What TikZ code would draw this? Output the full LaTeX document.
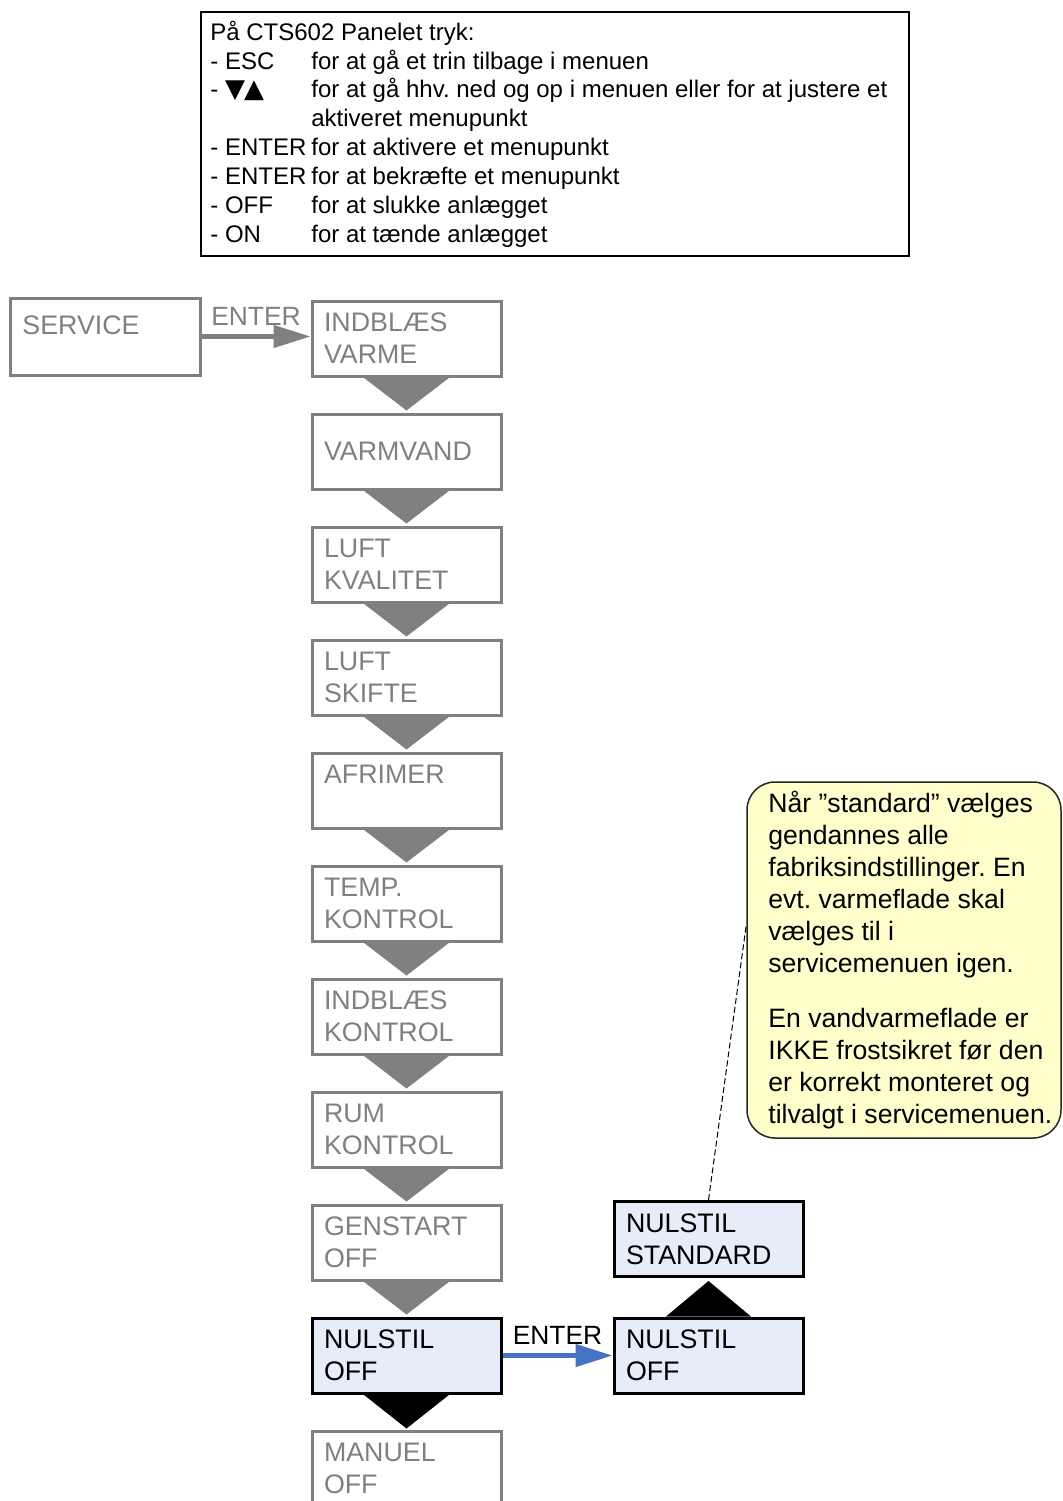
\documentclass[tikz,border=0pt]{standalone}
\usepackage{fontspec}
\setmainfont{Liberation Sans}
\newfontfamily\symfont{DejaVu Sans}
\usetikzlibrary{arrows.meta,calc}
\definecolor{boxgray}{RGB}{128,128,128}
\definecolor{selfill}{RGB}{230,237,248}
\definecolor{notefill}{RGB}{255,255,204}
\definecolor{arrowblue}{RGB}{68,114,196}
\frenchspacing
\begin{document}
\frenchspacing
\begin{tikzpicture}[x=0.5pt,y=-0.5pt,
  menubox/.style={draw=boxgray, line width=1.5pt, text=boxgray,
    minimum width=94.5pt, minimum height=37.5pt, inner xsep=6pt, inner ysep=0pt,
    text width=82.5pt, align=left, font=\fontsize{13.4pt}{16pt}\selectfont},
  selbox/.style={menubox, draw=black, fill=selfill, text=black},
  plaintext/.style={inner sep=0pt, align=left},
  flowarrow/.style={line width=2.2pt, -{Triangle[length=18.5pt,width=11pt]}},
  arrowlabel/.style={anchor=base, yshift=5.5pt, inner sep=0pt, font=\fontsize{13.2pt}{16pt}\selectfont},
]
\useasboundingbox (0,0) rectangle (1062,1501);
\clip (0,0) rectangle (1062,1501);

% legend
\node[draw=black, line width=1pt, minimum width=354pt, minimum height=122pt, inner sep=0pt] (legend) at (555,134) {};
\node[plaintext, anchor=west, font=\fontsize{12pt}{14.43pt}\selectfont] (legendtext) at (210,134) {%
På CTS602 Panelet tryk:\\
\makebox[50.5pt][l]{- ESC}for at gå et trin tilbage i menuen\\
\makebox[50.5pt][l]{- {\symfont\fontsize{13pt}{14pt}\selectfont ▼\kern-0.5pt▲}}for at gå hhv. ned og op i menuen eller for at justere et\\
\hspace*{50.5pt}aktiveret menupunkt\\
\makebox[50.5pt][l]{- ENTER}for at aktivere et menupunkt\\
\makebox[50.5pt][l]{- ENTER}for at bekræfte et menupunkt\\
\makebox[50.5pt][l]{- OFF}for at slukke anlægget\\
\makebox[50.5pt][l]{- ON}for at tænde anlægget};

% service
\node[draw=boxgray, line width=1.5pt, minimum width=95pt, minimum height=38.5pt, inner sep=0pt] (service) at (105,336.5) {};
\node[plaintext, anchor=west, text=boxgray, font=\fontsize{13.4pt}{16pt}\selectfont] (servicetext) at (22,325) {SERVICE};

% menu column
\node[menubox] (b1) at (406.5,338.5) {INDBLÆS\\VARME};
\node[menubox] (b2) at (406.5,451.5) {VARMVAND};
\node[menubox] (b3) at (406.5,564.5) {LUFT\\KVALITET};
\node[menubox] (b4) at (406.5,677.5) {LUFT\\SKIFTE};
\node[menubox] (b5) at (406.5,790.5) {AFRIMER\\\mbox{}};
\node[menubox] (b6) at (406.5,903.5) {TEMP.\\KONTROL};
\node[menubox] (b7) at (406.5,1016.5) {INDBLÆS\\KONTROL};
\node[menubox] (b8) at (406.5,1129.5) {RUM\\KONTROL};
\node[menubox] (b9) at (406.5,1242.5) {GENSTART\\OFF};
\node[selbox]  (b10) at (406.5,1355.5) {NULSTIL\\OFF};
\node[menubox] (b11) at (406.5,1468.5) {MANUEL\\OFF};

% right column
\node[selbox] (ns) at (708.5,1239) {NULSTIL\\STANDARD};
\node[selbox] (nr) at (708.5,1355.5) {NULSTIL\\OFF};

% down triangles
\foreach \a/\b in {b1/b2,b2/b3,b3/b4,b4/b5,b5/b6,b6/b7,b7/b8,b8/b9,b9/b10}{
  \fill[boxgray] ($(\a.south)+(-43,0)$) -- ($(\a.south)+(43,0)$) -- ($(\b.north)+(0,-2)$) -- cycle;
}
\fill[black] ($(b10.south)+(-43,0)$) -- ($(b10.south)+(43,0)$) -- ($(b11.north)+(0,-1)$) -- cycle;
% up triangle
\fill[black] ($(nr.north)+(-42.5,0)$) -- ($(nr.north)+(42.5,0)$) -- ($(ns.south)+(0,3)$) -- cycle;

% arrows
\draw[flowarrow, boxgray] (service.east) -- node[arrowlabel, text=boxgray] (enter1) {ENTER} (service.east -| b1.west);
\draw[flowarrow, arrowblue] (b10.east) -- node[arrowlabel, text=black] (enter2) {ENTER} (nr.west);

% callout
\node[draw=black!85, line width=0.75pt, fill=notefill, rounded corners=14pt, minimum width=157pt, minimum height=178pt, inner sep=0pt] (note) at (904,960) {};
\node[plaintext, anchor=west, font=\fontsize{13.3pt}{16pt}\selectfont] (notetext) at (768,960) {%
Når ”standard” vælges\\
gendannes alle\\
fabriksindstillinger. En\\
evt. varmeflade skal\\
vælges til i\\
servicemenuen igen.\\[11.5pt]
En vandvarmeflade er\\
IKKE frostsikret før den\\
er korrekt monteret og\\
tilvalgt i servicemenuen.};
\draw[dashed, line width=0.5pt, dash pattern=on 3pt off 1.5pt] (ns.north) -- ([yshift=17.5pt]note.west);
\end{tikzpicture}
\end{document}
